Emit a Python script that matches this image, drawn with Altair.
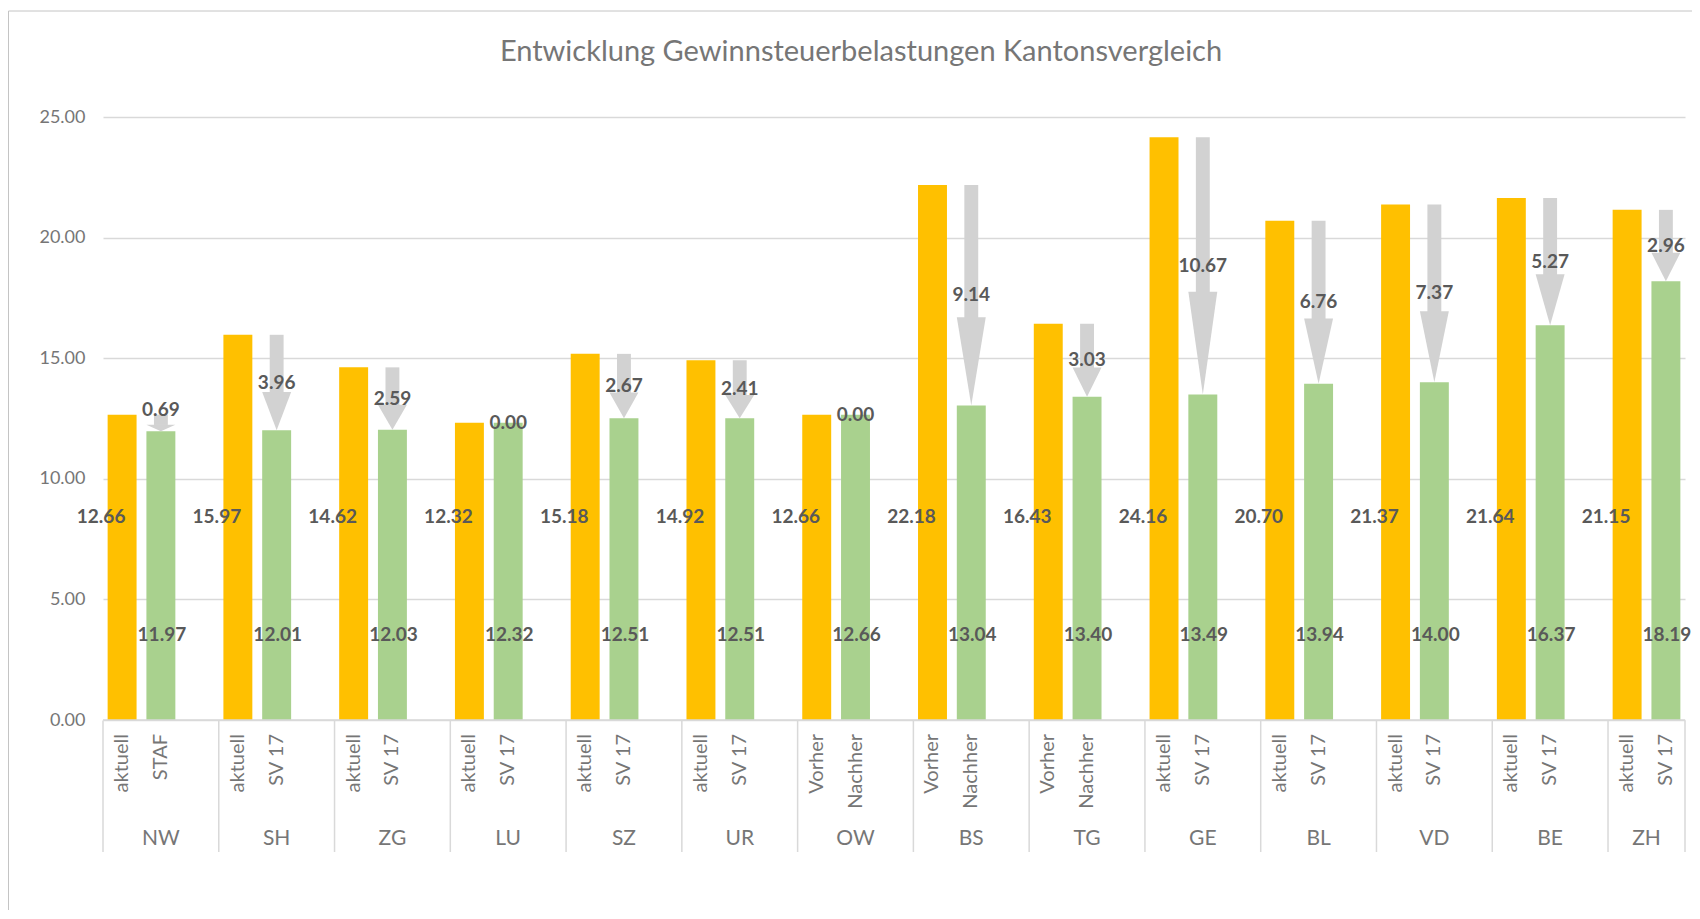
import altair as alt
import pandas as pd

# ---------------- data ----------------
cantons = ["NW", "SH", "ZG", "LU", "SZ", "UR", "OW", "BS", "TG", "GE", "BL", "VD", "BE", "ZH"]
before = [12.66, 15.97, 14.62, 12.32, 15.18, 14.92, 12.66, 22.18, 16.43, 24.16, 20.70, 21.37, 21.64, 21.15]
after = [11.97, 12.01, 12.03, 12.32, 12.51, 12.51, 12.66, 13.04, 13.40, 13.49, 13.94, 14.00, 16.37, 18.19]
before_names = ["aktuell"] * 6 + ["Vorher"] * 3 + ["aktuell"] * 5
after_names = ["STAF"] + ["SV 17"] * 5 + ["Nachher"] * 3 + ["SV 17"] * 5
title_text = "Entwicklung Gewinnsteuerbelastungen Kantonsvergleich"
y_ticks = [0, 5, 10, 15, 20, 25]

df = pd.DataFrame({
    "canton": cantons,
    "idx": list(range(len(cantons))),
    "before": before,
    "after": after,
    "before_name": before_names,
    "after_name": after_names,
})

# ---------------- layout constants ----------------
XMAX = 13.665          # visible part of the category axis (last group is cut)
W, H = 1582, 603
FONT = "Lato"
YELLOW, GREEN, ARROW = "#FFC000", "#A9D18E", "#D2D2D2"
VALC, AXC = "#595959", "#767676"

xs = alt.Scale(domain=[0, XMAX], nice=False, zero=False)
ys = alt.Scale(domain=[0, 25], nice=False)

base = alt.Chart(df).transform_calculate(
    zero="0",
    xb0="datum.idx + 0.04", xb1="datum.idx + 0.29", xbc="datum.idx + 0.165",
    xg0="datum.idx + 0.375", xg1="datum.idx + 0.625", xgc="datum.idx + 0.5",
    xs0="datum.idx + 0.44", xs1="datum.idx + 0.56",
    diff="datum.before - datum.after",
    hs="datum.after + 0.4 * (datum.before - datum.after)",
    hs2="datum.after + 0.38 * (datum.before - datum.after)",
    xlab=f"(datum.idx + min(datum.idx + 1, {XMAX})) / 2",
).transform_calculate(
    mid="datum.diff > 0 && datum.diff < 1 ? datum.before + 0.18 : (datum.before + datum.after) / 2",
)

yellow = base.mark_rect(color=YELLOW).encode(
    x=alt.X("xb0:Q", scale=xs, axis=None),
    x2="xb1:Q",
    y=alt.Y("before:Q", scale=ys, title=None, axis=alt.Axis(
        values=y_ticks, format=".2f", grid=True, gridColor="#D9D9D9", gridWidth=1.5,
        domain=False, ticks=False, tickSize=0, labelFont=FONT, labelFontSize=18,
        labelColor=AXC, labelPadding=18)),
    y2="zero:Q",
)

green = base.mark_rect(color=GREEN).encode(
    x=alt.X("xg0:Q", scale=xs, axis=None), x2="xg1:Q",
    y=alt.Y("after:Q", scale=ys), y2="zero:Q",
)

shaft = base.transform_filter("datum.before > datum.after").mark_rect(color=ARROW).encode(
    x=alt.X("xs0:Q", scale=xs, axis=None), x2="xs1:Q",
    y=alt.Y("before:Q", scale=ys), y2="hs2:Q",
)

head = base.transform_filter("datum.before > datum.after").transform_calculate(
    k="[-1, 0, 1]"
).transform_flatten(["k"]).transform_calculate(
    hx="datum.idx + 0.5 + datum.k * 0.125",
    hy2="datum.k == 0 ? datum.after : datum.hs",
).mark_area(color=ARROW, orient="vertical").encode(
    x=alt.X("hx:Q", scale=xs, axis=None),
    y=alt.Y("hs:Q", scale=ys, stack=None),
    y2="hy2:Q",
    detail="canton:N",
)

val_style = dict(font=FONT, fontWeight="bold", fontSize=19, color=VALC)

lab_before = base.mark_text(dx=-21, **val_style).encode(
    x=alt.X("xbc:Q", scale=xs, axis=None), y=alt.value(400),
    text=alt.Text("before:Q", format=".2f"),
)
lab_after = base.mark_text(dx=1, **val_style).encode(
    x=alt.X("xgc:Q", scale=xs, axis=None), y=alt.value(518),
    text=alt.Text("after:Q", format=".2f"),
)
lab_diff = base.mark_text(**val_style).encode(
    x=alt.X("xgc:Q", scale=xs, axis=None), y=alt.Y("mid:Q", scale=ys),
    text=alt.Text("diff:Q", format=".2f"),
)

cat_style = dict(font=FONT, fontSize=20, color=AXC, angle=270, align="right", baseline="middle")
name_before = base.mark_text(**cat_style).encode(
    x=alt.X("xbc:Q", scale=xs, axis=None), y=alt.value(617), text="before_name:N")
name_after = base.mark_text(**cat_style).encode(
    x=alt.X("xgc:Q", scale=xs, axis=None), y=alt.value(617), text="after_name:N")
name_canton = base.mark_text(font=FONT, fontSize=21, color=AXC, baseline="middle").encode(
    x=alt.X("xlab:Q", scale=xs, axis=None), y=alt.value(722), text="canton:N")

sep_df = pd.DataFrame({"pos": list(range(len(cantons))) + [XMAX]})
seps = alt.Chart(sep_df).mark_rule(color="#D9D9D9", strokeWidth=1.5).encode(
    x=alt.X("pos:Q", scale=xs, axis=None), y=alt.value(603.5), y2=alt.value(735))

baseline = alt.Chart(sep_df).transform_filter("datum.pos == 0").mark_rule(
    color="#D9D9D9", strokeWidth=1.5).encode(
    x=alt.value(0), x2=alt.value(W), y=alt.value(603))

one = pd.DataFrame({"t": [title_text]})
title = alt.Chart(one).mark_text(font=FONT, fontSize=29, color=AXC, baseline="alphabetic").encode(
    x=alt.value(758), y=alt.value(-56), text="t:N")
border = alt.Chart(one).mark_rect(fill="transparent", stroke="#C4C4C4", strokeWidth=1).encode(
    x=alt.value(-94.5), x2=alt.value(1800), y=alt.value(-106), y2=alt.value(1000))

chart = alt.layer(
    border, yellow, green, baseline, seps, shaft, head,
    lab_before, lab_after, lab_diff, name_before, name_after, name_canton, title,
).properties(
    width=W, height=H,
    autosize=alt.AutoSizeParams(type="none"),
    padding={"left": 95, "top": 109, "right": 7, "bottom": 190},
).configure_view(strokeWidth=0)

chart.save("out.html", embed_options={"renderer": "svg", "actions": False})
